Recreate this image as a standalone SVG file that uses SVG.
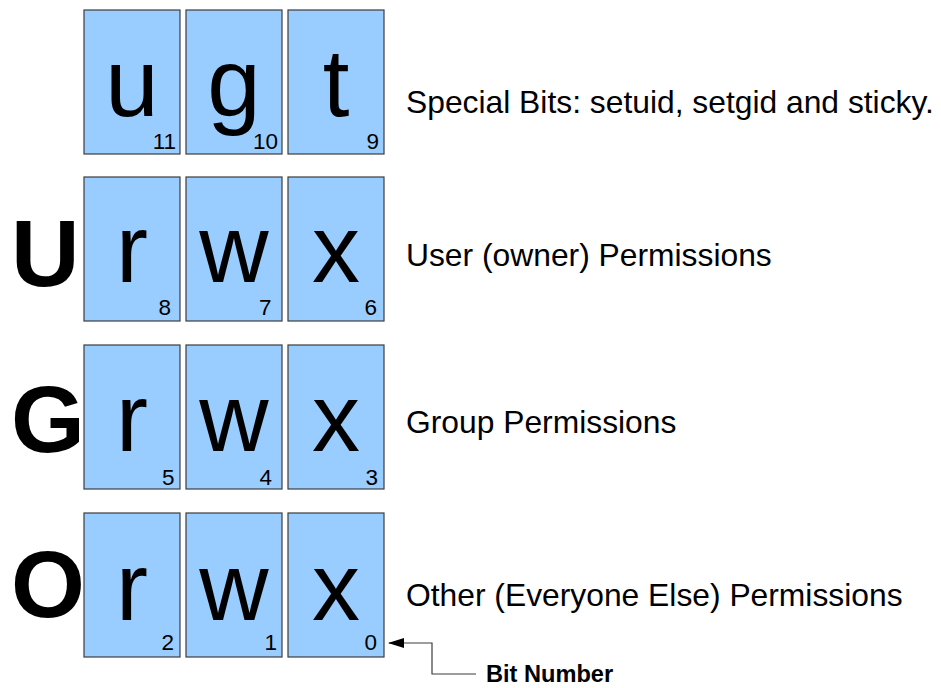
<svg xmlns="http://www.w3.org/2000/svg" width="941" height="688" viewBox="0 0 941 688">
  <style>
    .cell { fill: #99ccff; stroke: #3c3c3c; stroke-width: 1.2; }
    .bit { font-family: "Liberation Sans", Arial, sans-serif; font-size: 96px; fill: #000; text-anchor: middle; }
    .num { font-family: "Liberation Sans", Arial, sans-serif; font-size: 22.5px; fill: #000; text-anchor: end; }
    .cls { font-family: "Liberation Sans", Arial, sans-serif; font-size: 95px; font-weight: bold; fill: #000; }
    .lbl { font-family: "Liberation Sans", Arial, sans-serif; font-size: 31.8px; fill: #000; }
    .note { font-family: "Liberation Sans", Arial, sans-serif; font-size: 23.6px; font-weight: bold; fill: #000; }
    .conn { fill: none; stroke: #3c3c3c; stroke-width: 1.2; }
  </style>
  <defs>
    <marker id="arrow" markerWidth="16" markerHeight="10" refX="15" refY="5" orient="auto" markerUnits="userSpaceOnUse">
      <path d="M0,0 L16,5 L0,10 Z" fill="#000"/>
    </marker>
  </defs>

  <rect width="941" height="688" fill="#ffffff"/>

  <!-- special bits row -->
  <g id="special">
    <g id="bit11"><rect class="cell" x="84" y="10" width="96" height="144"/><text class="bit" x="132" y="116">u</text><text class="num" x="176" y="149">11</text></g>
    <g id="bit10"><rect class="cell" x="186" y="10" width="96" height="144"/><text class="bit" x="234" y="116">g</text><text class="num" x="278" y="149">10</text></g>
    <g id="bit9"><rect class="cell" x="288" y="10" width="96" height="144"/><text class="bit" x="336" y="116">t</text><text class="num" x="379" y="149">9</text></g>
    <text class="lbl" x="406" y="113">Special Bits: setuid, setgid and sticky.</text>
  </g>

  <!-- user row -->
  <g id="user">
    <text class="cls" x="11" y="286">U</text>
    <g id="bit8"><rect class="cell" x="84" y="177" width="96" height="144"/><text class="bit" x="132" y="282">r</text><text class="num" x="171" y="315">8</text></g>
    <g id="bit7"><rect class="cell" x="186" y="177" width="96" height="144"/><text class="bit" x="234" y="282">w</text><text class="num" x="271.5" y="315">7</text></g>
    <g id="bit6"><rect class="cell" x="288" y="177" width="96" height="144"/><text class="bit" x="336" y="282">x</text><text class="num" x="377" y="315">6</text></g>
    <text class="lbl" x="406" y="266">User (owner) Permissions</text>
  </g>

  <!-- group row -->
  <g id="group">
    <text class="cls" x="11" y="452">G</text>
    <g id="bit5"><rect class="cell" x="84" y="345" width="96" height="144"/><text class="bit" x="132" y="451">r</text><text class="num" x="174.5" y="485">5</text></g>
    <g id="bit4"><rect class="cell" x="186" y="345" width="96" height="144"/><text class="bit" x="234" y="451">w</text><text class="num" x="272" y="485">4</text></g>
    <g id="bit3"><rect class="cell" x="288" y="345" width="96" height="144"/><text class="bit" x="336" y="451">x</text><text class="num" x="378" y="485">3</text></g>
    <text class="lbl" x="406" y="433">Group Permissions</text>
  </g>

  <!-- other row -->
  <g id="other">
    <text class="cls" x="11" y="617">O</text>
    <g id="bit2"><rect class="cell" x="84" y="513" width="96" height="144"/><text class="bit" x="132" y="620">r</text><text class="num" x="174" y="650">2</text></g>
    <g id="bit1"><rect class="cell" x="186" y="513" width="96" height="144"/><text class="bit" x="234" y="620">w</text><text class="num" x="277" y="650">1</text></g>
    <g id="bit0"><rect class="cell" x="288" y="513" width="96" height="144"/><text class="bit" x="336" y="620">x</text><text class="num" x="377" y="650">0</text></g>
    <text class="lbl" x="406" y="606">Other (Everyone Else) Permissions</text>
  </g>

  <!-- callout for the bit numbers -->
  <g id="connectors">
    <path class="conn" d="M476,674 H432 V643 H389" marker-end="url(#arrow)"/>
  </g>
  <g id="bit-number-note">
    <text class="note" x="486" y="682">Bit Number</text>
  </g>
</svg>
